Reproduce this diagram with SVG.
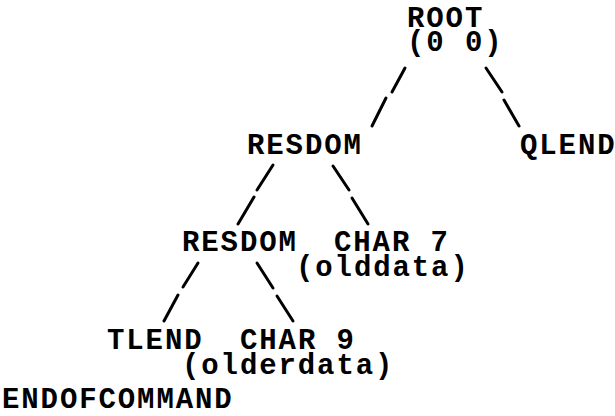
<svg xmlns="http://www.w3.org/2000/svg" width="615" height="416" viewBox="0 0 615 416">
<style>
text{font-family:"Liberation Mono","Courier New",monospace;font-size:29px;letter-spacing:1.9px;font-weight:bold;fill:#000}
.c line{stroke:#000;stroke-width:3;stroke-linecap:round}
</style>
<rect width="615" height="416" fill="#fff"/>
<g id="connectors" class="c">
<line x1="405" y1="68" x2="392" y2="92"/>
<line x1="386" y1="98" x2="372" y2="126"/>
<line x1="486" y1="68" x2="502" y2="92"/>
<line x1="504" y1="100" x2="519" y2="126"/>
<line x1="273" y1="165" x2="257" y2="190"/>
<line x1="254" y1="197" x2="238" y2="224"/>
<line x1="333" y1="166" x2="349" y2="190"/>
<line x1="352" y1="198" x2="368" y2="224"/>
<line x1="198" y1="263" x2="183" y2="287"/>
<line x1="178" y1="295" x2="164" y2="321"/>
<line x1="257" y1="263" x2="273" y2="288"/>
<line x1="277" y1="296" x2="293" y2="321"/>
</g>
<g id="root"><text x="407" y="27">ROOT</text><text x="407" y="51">(0 0)</text></g>
<g id="resdom1"><text x="247" y="154">RESDOM</text></g>
<g id="qlend"><text x="520" y="154">QLEND</text></g>
<g id="resdom2"><text x="182" y="251">RESDOM</text></g>
<g id="char7"><text x="334" y="251">CHAR 7</text><text x="296" y="276">(olddata)</text></g>
<g id="tlend"><text x="107" y="349">TLEND</text></g>
<g id="char9"><text x="240" y="349">CHAR 9</text><text x="182" y="374">(olderdata)</text></g>
<g id="endofcommand"><text x="2" y="408">ENDOFCOMMAND</text></g>
</svg>
